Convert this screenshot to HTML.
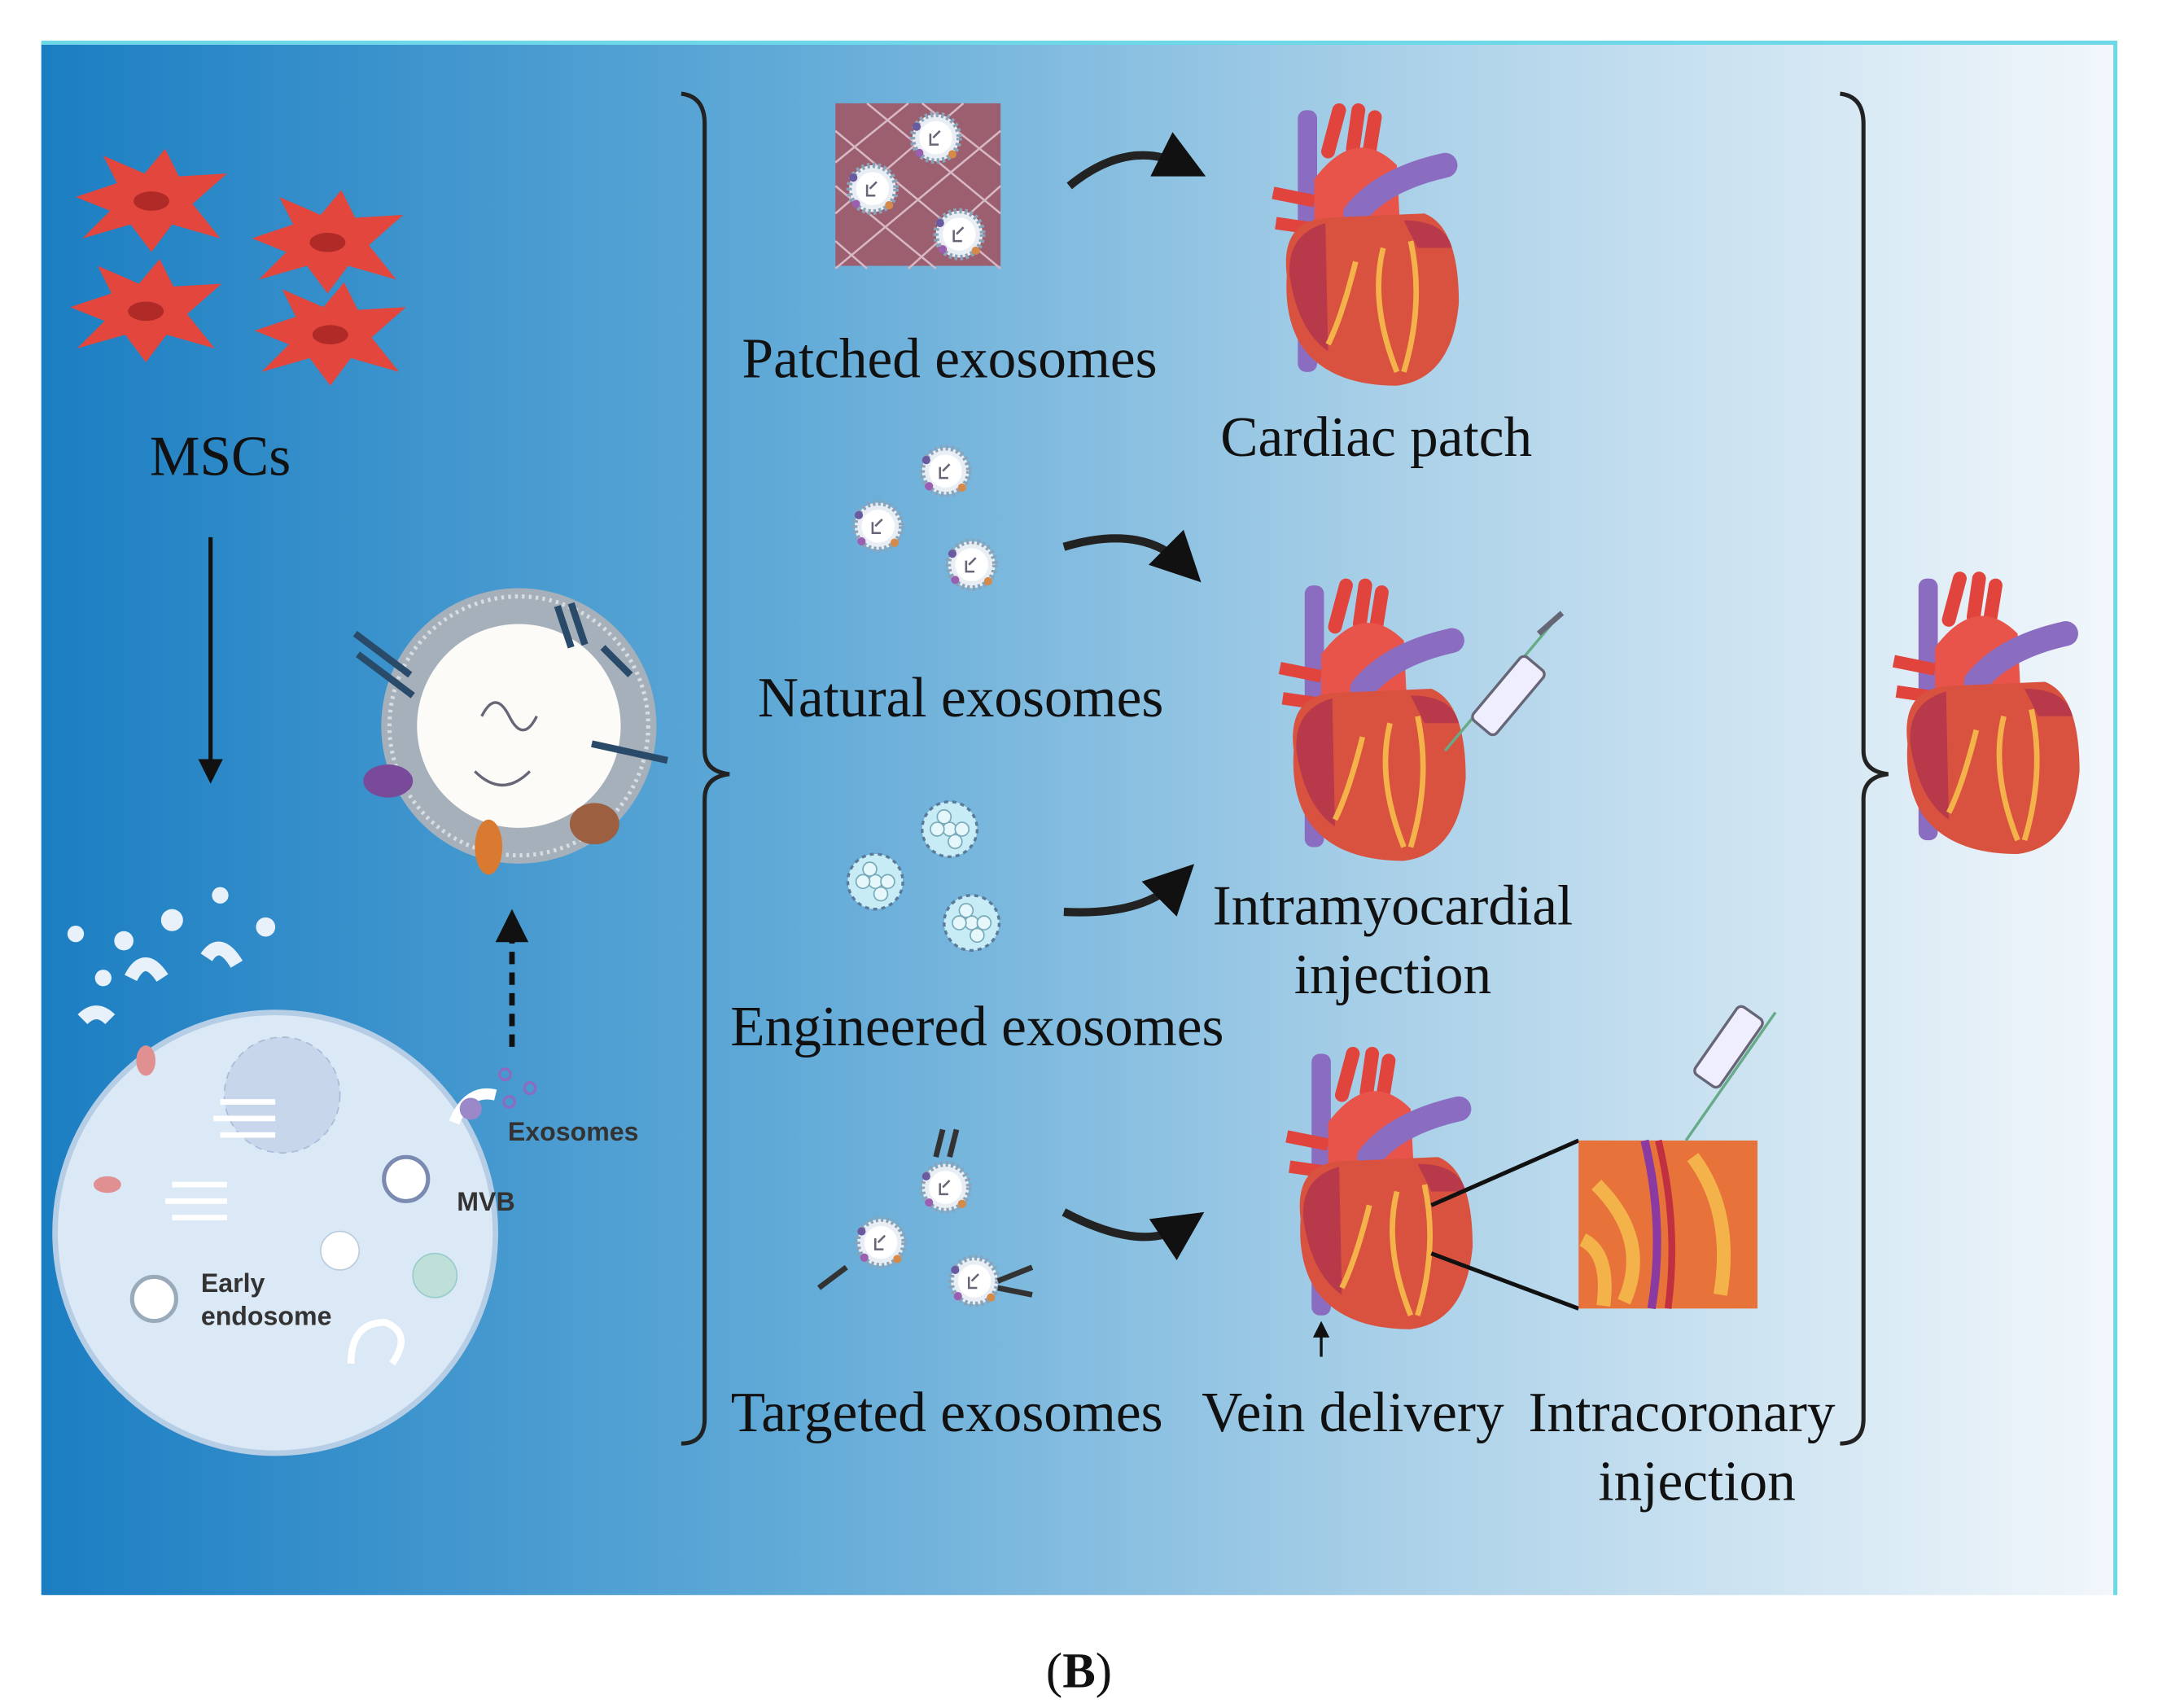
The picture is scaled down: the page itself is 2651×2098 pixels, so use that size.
<!DOCTYPE html>
<html><head><meta charset="utf-8"><style>
html,body{margin:0;padding:0;background:#fff;}
svg{display:block}
.t{font-family:"Liberation Serif",serif;font-size:41px;fill:#111;}
.s{font-family:"Liberation Sans",sans-serif;font-size:19px;font-weight:bold;fill:#333;}
</style></head><body>
<svg width="2651" height="2098" viewBox="0 0 1568 1240" preserveAspectRatio="none" xmlns="http://www.w3.org/2000/svg">
<defs>
<linearGradient id="bg" x1="0" x2="1" y1="0" y2="0">
<stop offset="0" stop-color="#1b7ec2"/><stop offset="0.35" stop-color="#5fa9d7"/>
<stop offset="0.65" stop-color="#a9d0e8"/><stop offset="1" stop-color="#f2f7fb"/></linearGradient>
<g id="heart">
<rect x="18" y="0" width="14" height="190" rx="6" fill="#8a6cc0"/>
<path d="M40 30 L48 0 M58 28 L62 0 M70 30 L74 5" stroke="#e0443d" stroke-width="10" stroke-linecap="round"/>
<path d="M0 60 L30 66 M2 82 L30 86" stroke="#e0443d" stroke-width="9"/>
<path d="M30 50 Q60 10 90 40 L92 80 L30 80Z" fill="#e8544a"/>
<path d="M60 75 Q80 50 125 40" stroke="#8a6cc0" stroke-width="18" fill="none" stroke-linecap="round"/>
<path d="M10 120 Q5 80 40 78 L110 75 Q135 85 135 140 Q130 195 90 200 Q40 200 20 170 Q8 150 10 120Z" fill="#d9523f"/>
<path d="M12 120 Q10 90 38 82 L40 175 Q18 160 12 120Z" fill="#b8394a"/>
<path d="M80 100 Q70 140 90 190 M100 95 Q110 140 95 190 M60 110 Q50 150 40 170" stroke="#f4b34a" stroke-width="4" fill="none"/>
<path d="M95 80 Q125 80 130 100 L105 100Z" fill="#b8394a"/>
</g>
<g id="exo">
<circle r="17" fill="#e8eef4" stroke="#8aa3b8" stroke-width="4" stroke-dasharray="2 2"/>
<circle r="12" fill="#fff"/>
<path d="M-4 -3 L-4 5 L2 5 M3 -5 L-2 0" stroke="#667" stroke-width="1.5" fill="none"/>
<circle cx="-14" cy="-8" r="3" fill="#6a5aa0"/><circle cx="12" cy="12" r="3" fill="#d58a4a"/><circle cx="-12" cy="11" r="3" fill="#9b5fb0"/>
</g>
<g id="eexo">
<circle r="20" fill="#c8ecf5" stroke="#5a7a9a" stroke-width="2" stroke-dasharray="3 3"/>
<circle r="5" fill="#e6f7fb" stroke="#7ab" /><circle cx="-9" r="5" fill="#e6f7fb" stroke="#7ab"/><circle cx="9" r="5" fill="#e6f7fb" stroke="#7ab"/>
<circle cy="-9" cx="-4" r="5" fill="#e6f7fb" stroke="#7ab"/><circle cy="9" cx="4" r="5" fill="#e6f7fb" stroke="#7ab"/>
</g>
<g id="msc">
<path d="M-55 -5 L-25 -15 L-35 -35 L-5 -22 L10 -40 L20 -20 L55 -22 L30 0 L50 25 L15 15 L0 35 L-15 15 L-50 25 L-30 5Z" fill="#e2463c"/>
<ellipse cx="0" cy="-2" rx="13" ry="7" fill="#b02a28"/>
</g>
<marker id="ah" markerWidth="6" markerHeight="6" refX="3" refY="3" orient="auto"><path d="M0 0 L6 3 L0 6Z" fill="#111"/></marker>
</defs>
<rect x="0" y="0" width="1568" height="1240" fill="#fff"/>
<rect x="30" y="31" width="1508" height="1127" fill="url(#bg)"/>
<path d="M30 31 H1537 V1158" stroke="#6fd8e8" stroke-width="3" fill="none"/>

<use href="#msc" x="110" y="148"/><use href="#msc" x="238" y="178"/>
<use href="#msc" x="106" y="228"/><use href="#msc" x="240" y="245"/>
<text class="t" x="160" y="345" text-anchor="middle">MSCs</text>
<line x1="153" y1="390" x2="153" y2="560" stroke="#111" stroke-width="3" marker-end="url(#ah)"/>

<circle cx="200" cy="895" r="160" fill="#dbe8f6" stroke="#b6cde6" stroke-width="4"/>
<circle cx="205" cy="795" r="42" fill="#c7d6ea" stroke="#a8bcd6" stroke-dasharray="5 4"/>
<circle cx="55" cy="678" r="6" fill="#e8f0fa"/><circle cx="90" cy="683" r="7" fill="#e8f0fa"/><circle cx="125" cy="668" r="8" fill="#e8f0fa"/><circle cx="160" cy="650" r="6" fill="#e8f0fa"/><circle cx="193" cy="673" r="7" fill="#e8f0fa"/><circle cx="75" cy="710" r="6" fill="#e8f0fa"/>
<path d="M60 740 Q70 730 80 740 M95 710 Q105 690 118 710 M150 695 Q160 680 172 700" stroke="#e8f0fa" stroke-width="10" fill="none"/>
<ellipse cx="106" cy="770" rx="7" ry="11" fill="#e09090"/><ellipse cx="78" cy="860" rx="10" ry="6" fill="#e09090"/>
<path d="M160 800 h40 M155 812 h45 M160 824 h40 M125 860 h40 M120 872 h45 M125 884 h40" stroke="#fff" stroke-width="4"/>
<circle cx="247" cy="908" r="14" fill="#fff" stroke="#bcd"/>
<circle cx="295" cy="856" r="16" fill="#fff" stroke="#7a8ab0" stroke-width="3"/>
<circle cx="316" cy="926" r="16" fill="#bfe0d8" stroke="#9cc"/>
<circle cx="112" cy="943" r="16" fill="#fff" stroke="#9ab" stroke-width="3"/>
<path d="M255 990 Q255 960 280 960 Q300 968 285 990" stroke="#fff" stroke-width="5" fill="none"/>
<path d="M330 815 Q340 790 360 795" stroke="#fff" stroke-width="8" fill="none"/><circle cx="342" cy="805" r="8" fill="#9a88c8"/>
<text class="s" x="332" y="879">MVB</text>
<text class="s" x="146" y="938" font-size="17">Early</text>
<text class="s" x="146" y="962" font-size="17">endosome</text>
<circle cx="367" cy="780" r="4" fill="none" stroke="#8a6cc0" stroke-width="2"/><circle cx="385" cy="790" r="4" fill="none" stroke="#8a6cc0" stroke-width="2"/><circle cx="370" cy="800" r="4" fill="none" stroke="#8a6cc0" stroke-width="2"/>
<text class="s" x="369" y="828">Exosomes</text>
<line x1="372" y1="760" x2="372" y2="672" stroke="#111" stroke-width="4" stroke-dasharray="9 6" marker-end="url(#ah)"/>

<circle cx="377" cy="527" r="100" fill="#a5b0bb"/>
<circle cx="377" cy="527" r="94" fill="none" stroke="#d8dde2" stroke-width="3" stroke-dasharray="2 3"/>
<circle cx="377" cy="527" r="74" fill="#fdfbf8"/>
<ellipse cx="282" cy="567" rx="18" ry="12" fill="#7a4a9a"/><ellipse cx="355" cy="615" rx="10" ry="20" fill="#d97a30"/><ellipse cx="432" cy="598" rx="18" ry="15" fill="#9c6040"/>
<path d="M258 460 l40 30 M260 475 l40 30 M405 440 l10 30 M415 438 l10 30 M438 470 l20 20 M430 540 l55 12" stroke="#2a4a6a" stroke-width="5"/>
<path d="M350 520 q10 -20 20 0 q10 20 20 0 M345 560 q20 20 40 0" stroke="#667" stroke-width="2" fill="none"/>

<path d="M495 68 Q512 70 512 90 V545 Q512 560 530 562 Q512 564 512 580 V1030 Q512 1048 495 1048" stroke="#222" stroke-width="3" fill="none"/>
<path d="M1337 68 Q1354 70 1354 90 V545 Q1354 560 1372 562 Q1354 564 1354 580 V1030 Q1354 1048 1337 1048" stroke="#222" stroke-width="3" fill="none"/>

<rect x="607" y="75" width="120" height="118" fill="#9b5f70"/>
<path d="M607 95 L727 195 M607 135 L680 195 M607 175 L630 195 M630 75 L727 155 M670 75 L727 120 M727 95 L607 195 M727 135 L660 195 M700 75 L607 155 M660 75 L607 118" stroke="#d8b8c4" stroke-width="1.5"/>
<use href="#exo" x="680" y="100"/><use href="#exo" x="634" y="137"/><use href="#exo" x="697" y="170"/>
<text class="t" x="690" y="274" text-anchor="middle">Patched exosomes</text>
<path d="M777 135 Q820 100 860 120" stroke="#222" stroke-width="6" fill="none" marker-end="url(#ah)"/>
<use href="#heart" x="925" y="80"/>
<text class="t" x="1000" y="331" text-anchor="middle">Cardiac patch</text>

<use href="#exo" x="687" y="342"/><use href="#exo" x="638" y="382"/><use href="#exo" x="706" y="410"/>
<text class="t" x="698" y="520" text-anchor="middle">Natural exosomes</text>
<path d="M773 397 Q830 380 860 410" stroke="#222" stroke-width="6" fill="none" marker-end="url(#ah)"/>
<use href="#heart" x="930" y="425"/>
<path d="M1050 545 L1130 450" stroke="#6a8" stroke-width="2"/>
<rect x="1085" y="475" width="22" height="60" rx="4" transform="rotate(40 1096 505)" fill="#eef" stroke="#667" stroke-width="2"/>
<path d="M1118 460 L1135 445" stroke="#667" stroke-width="4"/>

<use href="#eexo" x="690" y="602"/><use href="#eexo" x="636" y="640"/><use href="#eexo" x="706" y="670"/>
<path d="M773 662 Q830 665 855 640" stroke="#222" stroke-width="6" fill="none" marker-end="url(#ah)"/>
<text class="t" x="1012" y="671" text-anchor="middle">Intramyocardial</text>
<text class="t" x="1012" y="721" text-anchor="middle">injection</text>
<text class="t" x="710" y="759" text-anchor="middle">Engineered exosomes</text>

<use href="#exo" x="687" y="862"/><use href="#exo" x="640" y="902"/><use href="#exo" x="708" y="930"/>
<path d="M680 840 l5 -20 M690 840 l5 -20 M615 920 l-20 15 M725 930 l25 -10 M725 935 l25 5" stroke="#333" stroke-width="4"/>
<path d="M773 880 Q830 910 860 890" stroke="#222" stroke-width="6" fill="none" marker-end="url(#ah)"/>
<use href="#heart" x="935" y="765"/>
<line x1="960" y1="985" x2="960" y2="965" stroke="#111" stroke-width="2" marker-end="url(#ah)"/>
<path d="M1040 875 L1147 828 M1040 910 L1147 950" stroke="#111" stroke-width="3"/>
<rect x="1147" y="828" width="130" height="122" fill="#e8733a"/>
<path d="M1160 860 Q1200 900 1180 945 M1230 840 Q1260 880 1250 940 M1150 900 Q1170 910 1165 948" stroke="#f4b34a" stroke-width="10" fill="none"/>
<path d="M1195 828 Q1210 890 1200 950" stroke="#8a3aa0" stroke-width="6" fill="none"/><path d="M1205 828 Q1220 890 1212 950" stroke="#c03040" stroke-width="5" fill="none"/>
<path d="M1225 828 L1290 735" stroke="#6a8" stroke-width="2"/>
<rect x="1245" y="730" width="22" height="60" rx="4" transform="rotate(35 1256 760)" fill="#eef" stroke="#667" stroke-width="2"/>
<text class="t" x="688" y="1039" text-anchor="middle">Targeted exosomes</text>
<text class="t" x="983" y="1039" text-anchor="middle">Vein delivery</text>
<text class="t" x="1222" y="1039" text-anchor="middle">Intracoronary</text>
<text class="t" x="1233" y="1089" text-anchor="middle">injection</text>

<use href="#heart" x="1376" y="420"/>
<text x="784" y="1225" text-anchor="middle" style="font-family:'Liberation Serif',serif;font-size:36px;fill:#111">(<tspan font-weight="bold">B</tspan>)</text>
</svg>
</body></html>
